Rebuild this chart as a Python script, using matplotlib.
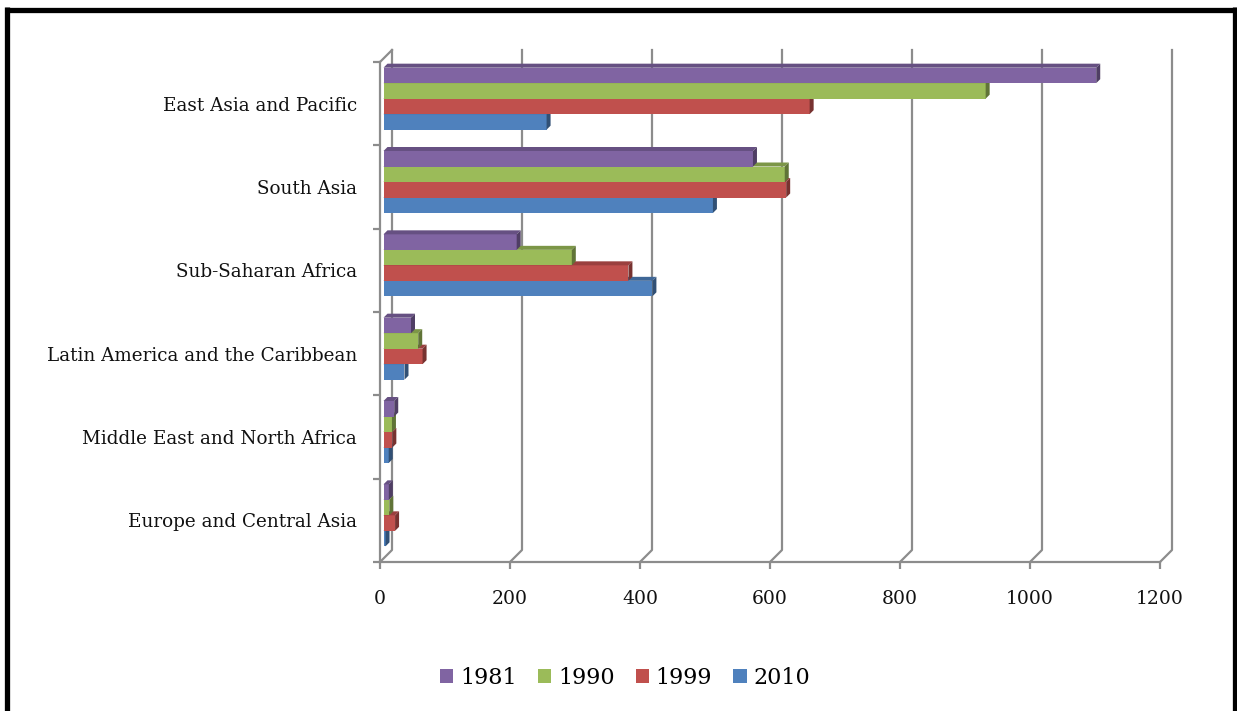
import matplotlib
matplotlib.use("Agg")
import matplotlib.pyplot as plt
from matplotlib.patches import Polygon, Rectangle
from matplotlib.lines import Line2D
import numpy as np

# ---- data (poverty headcount, millions) ----
regions = ["East Asia and Pacific", "South Asia", "Sub-Saharan Africa",
           "Latin America and the Caribbean", "Middle East and North Africa",
           "Europe and Central Asia"]
years = ["1981", "1990", "1999", "2010"]
v1981 = [1096.5, 568.4, 204.9, 42.3, 16.5, 8.2]
v1990 = [926.4, 617.3, 289.7, 53.4, 13.0, 8.9]
v1999 = [655.6, 619.5, 376.8, 60.1, 13.6, 17.8]
v2010 = [250.9, 506.8, 413.7, 32.3, 8.0, 3.1]
series = [v1981, v1990, v1999, v2010]
colors = ["#8064A2", "#9BBB59", "#C0504D", "#4F81BD"]
xticks = [0, 200, 400, 600, 800, 1000, 1200]

W, H, DPI = 1237, 711, 100
fig = plt.figure(figsize=(W / DPI, H / DPI), dpi=DPI)
fig.patch.set_facecolor("white")

# front plane of the 3D box in pixels
L, R, T, B = 380, 1160, 62, 562
ax = fig.add_axes([L / W, (H - B) / H, (R - L) / W, (B - T) / H])
ax.set_xlim(0, 1200)
ax.set_ylim(len(regions) - 0.5, -0.5)
ax.set_facecolor("none")

sx = (R - L) / 1200.0          # px per unit
sy = (B - T) / len(regions)    # px per category
DEPTH = 12                     # wall depth in px
gx, gy = DEPTH / sx, DEPTH / sy
gcol = "#8C8C8C"
glw = 1.6

# back-wall gridlines + floor diagonals
for v in xticks:
    ax.add_line(Line2D([v + gx, v + gx, v], [-0.5 - gy, len(regions) - 0.5 - gy, len(regions) - 0.5],
                       color=gcol, lw=glw, clip_on=False, zorder=1))
# left wall top diagonal
ax.add_line(Line2D([0, gx], [-0.5, -0.5 - gy], color=gcol, lw=glw, clip_on=False, zorder=1))

# bars (3D look)
bh = 15.5 / sy
boff_x, boff_y = 3.5 / sx, 5.0 / sy
bd_x, bd_y = 4 / sx, 4 / sy
ypos = np.arange(len(regions))

def darker(c, f):
    c = np.array(matplotlib.colors.to_rgb(c))
    return tuple(c * f)

for j in reversed(range(len(series))):
    vals = series[j]
    yc = ypos - 2 * bh + bh * (j + 0.5) - boff_y
    ax.barh(yc, vals, height=bh, left=boff_x, color=colors[j], zorder=3, clip_on=False)
    for yy, vv in zip(yc, vals):
        top = yy - bh / 2
        bot = yy + bh / 2
        x0, x1 = boff_x, boff_x + vv
        ax.add_patch(Polygon([(x0, top), (x1, top), (x1 + bd_x, top - bd_y), (x0 + bd_x, top - bd_y)],
                             closed=True, facecolor=darker(colors[j], 0.8), edgecolor="none",
                             zorder=3, clip_on=False))
        ax.add_patch(Polygon([(x1, top), (x1, bot), (x1 + bd_x, bot - bd_y), (x1 + bd_x, top - bd_y)],
                             closed=True, facecolor=darker(colors[j], 0.62), edgecolor="none",
                             zorder=3, clip_on=False))

for s in ["top", "right"]:
    ax.spines[s].set_visible(False)
for s in ["left", "bottom"]:
    ax.spines[s].set_color(gcol)
    ax.spines[s].set_linewidth(glw)
    ax.spines[s].set_zorder(2)

ax.set_xticks(xticks)
ax.set_xticklabels([str(t) for t in xticks])
ax.set_yticks(np.arange(-0.5, len(regions), 1.0))
ax.set_yticklabels([])
ax.set_yticks(ypos, minor=True)
ax.set_yticklabels(regions, minor=True)
ax.tick_params(axis="y", which="major", length=5, width=glw, color=gcol, direction="out")
ax.tick_params(axis="y", which="minor", length=0, pad=16.5, labelsize=13.2)
ax.tick_params(axis="x", which="major", length=5, width=glw, color=gcol, direction="out",
               pad=15, labelsize=13.5)
for lbl in ax.get_yticklabels(minor=True) + ax.get_xticklabels():
    lbl.set_fontfamily("DejaVu Serif")
    lbl.set_color("#111111")

# legend
handles = [Rectangle((0, 0), 1, 1, facecolor=c, edgecolor="none") for c in colors]
fig.legend(handles, years, loc="center", bbox_to_anchor=(625 / W, 1 - 678 / H), ncol=4,
           frameon=False, prop={"family": "DejaVu Serif", "size": 16},
           handlelength=0.6, handleheight=0.6, handletextpad=0.3, columnspacing=0.95,
           borderaxespad=0, borderpad=0)

# outer black frame (left, top, right)
def fl(xs, ys):
    fig.add_artist(Line2D([x / W for x in xs], [1 - y / H for y in ys], color="black",
                          lw=3.8, transform=fig.transFigure, solid_capstyle="butt"))
fl([7.5, 7.5], [7, 711])
fl([5, 1237], [9.5, 9.5])
fl([1234.5, 1234.5], [7, 711])

fig.savefig("out.png", dpi=DPI, facecolor="white")
